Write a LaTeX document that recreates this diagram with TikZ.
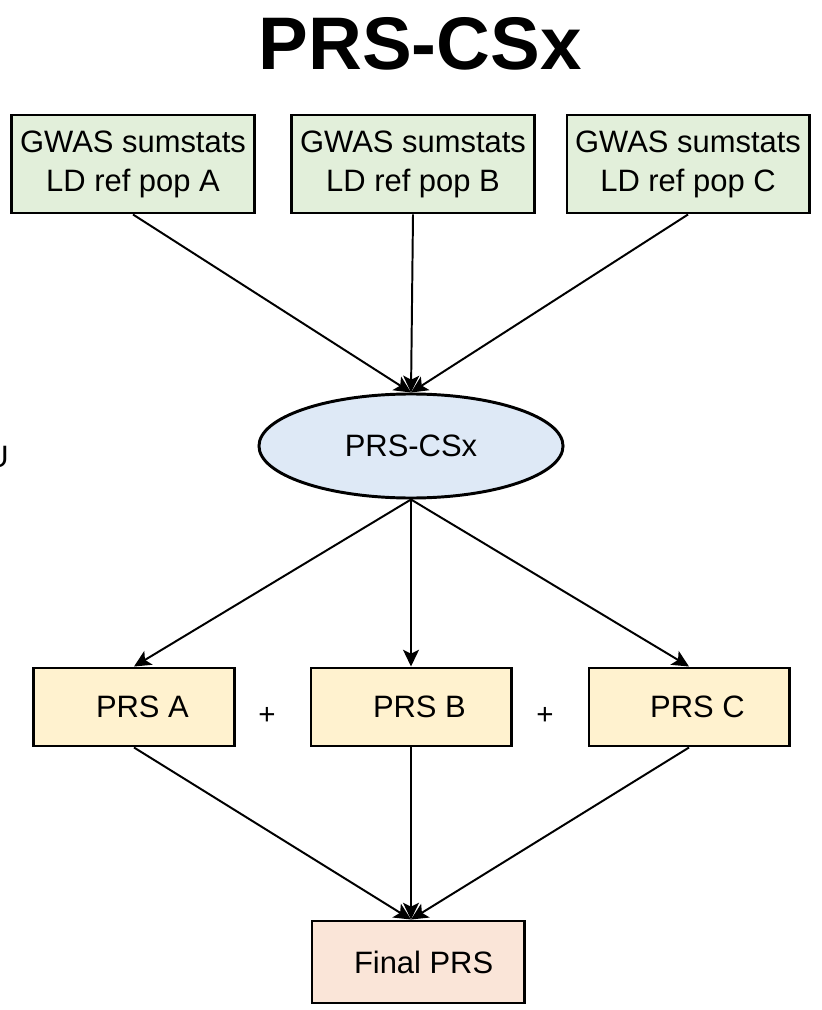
\documentclass[tikz,border=0pt]{standalone}
\usepackage{fontspec}
\setmainfont{Liberation Sans}
\usetikzlibrary{shapes.geometric,arrows.meta}
\definecolor{ingreen}{HTML}{E2EFDA}
\definecolor{midblue}{HTML}{DEE9F6}
\definecolor{outyellow}{HTML}{FFF2CF}
\definecolor{finalpink}{HTML}{FAE5D8}
\begin{document}
\begin{tikzpicture}
		[x=0.025cm,y=-0.025cm,
		inbox/.style={rectangle,draw,line width=2.1pt,fill=ingreen,minimum width=6.05cm,minimum height=2.45cm,align=center,font=\fontsize{22}{27.7}\selectfont},
		mybox/.style={rectangle,draw,line width=2.1pt,fill=outyellow,minimum width=5cm,minimum height=1.95cm,font=\fontsize{22}{26}\selectfont},
		myellipse/.style={ellipse,draw,line width=2.1pt,fill=midblue,minimum width=7.6cm,minimum height=2.6cm,font=\fontsize{22}{26}\selectfont},
		myarrow/.style={line width=1.4pt,-{Stealth[length=0.42cm,width=0.4cm,inset=0.1cm]}}]
		\useasboundingbox (0,0) rectangle (821,1010);
		% title
		\node[name=title,font=\fontsize{53}{60}\selectfont\bfseries] at (420,44) {PRS-CSx};
		\node[name=cut,anchor=east,inner sep=0,font=\fontsize{22}{26}\selectfont] at (9,457) {U};
		% inputs
		\node[inbox,name=ga] at (133,164) {GWAS sumstats\\LD ref pop A};
		\node[inbox,name=gb] at (413,164) {GWAS sumstats\\LD ref pop B};
		\node[inbox,name=gc] at (688,164) {GWAS sumstats\\LD ref pop C};
		% method
		\node[myellipse,name=csx] at (411,446) {PRS-CSx};
		% outputs
		\node[mybox,name=pa] at (134,707) {\hspace{12pt}PRS A};
		\node[mybox,name=pb] at (411,707) {\hspace{12pt}PRS B};
		\node[mybox,name=pc] at (689,707) {\hspace{12pt}PRS C};
		\node[name=plusa,font=\fontsize{21}{24}\selectfont] at (267,716) {+};
		\node[name=plusb,font=\fontsize{21}{24}\selectfont] at (545,716) {+};
		\node[mybox,name=final,fill=finalpink,minimum width=5.3cm,minimum height=2.05cm] at (418,962) {\hspace{8pt}Final PRS};
		\foreach \i in {ga,gb,gc}
		{
			\draw[myarrow] (\i.south) -- (csx.north);
		}
		\foreach \i in {pa,pb,pc}
		{
			\draw[myarrow] (csx.south) -- (\i.north);
			\draw[myarrow] (\i.south) -- (final.north -| csx.south);
		}
	\end{tikzpicture}
\end{document}
